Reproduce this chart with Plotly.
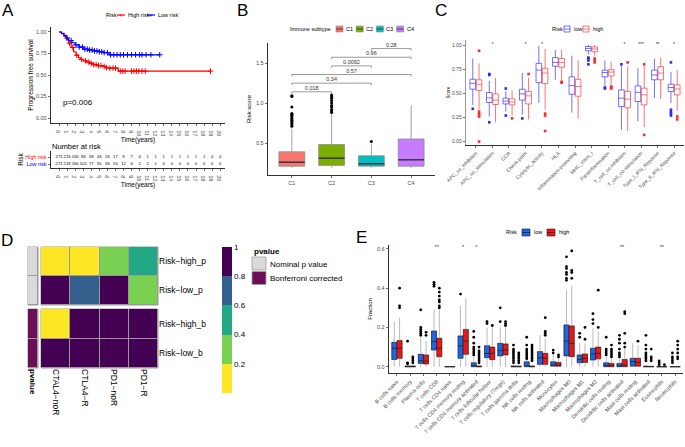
import numpy as np
import plotly.graph_objects as go

W, H = 685, 447
FONT = "Liberation Sans"
AX_TXT = "#4D4D4D"

# ---------------- Panel A data ----------------
km_t_high = [0, 0.3, 0.6, 0.9, 1.2, 1.5, 1.8, 2.1, 2.4, 2.7, 3.0, 3.4, 3.8, 4.3, 4.8, 5.3, 5.8, 6.3, 7.35, 18.8]
km_s_high = [1.0, 0.98, 0.95, 0.91, 0.87, 0.82, 0.77, 0.73, 0.70, 0.68, 0.665, 0.65, 0.635, 0.62, 0.61, 0.60, 0.585, 0.58, 0.545, 0.545]
km_t_low = [0, 0.3, 0.6, 0.9, 1.2, 1.6, 2.0, 2.5, 3.0, 3.6, 4.2, 5.0, 5.6, 6.2, 12.5]
km_s_low = [1.0, 0.985, 0.96, 0.93, 0.90, 0.875, 0.85, 0.825, 0.80, 0.79, 0.78, 0.77, 0.76, 0.735, 0.735]
cens_high = [1.3, 1.7, 2.2, 2.8, 3.3, 3.7, 4.0, 4.3, 4.6, 4.9, 5.2, 5.6, 5.9, 6.3, 6.7, 7.0, 7.6, 7.9, 8.2, 9.0, 9.3, 9.6, 9.9, 10.3, 10.7, 18.8]
cens_low = [1.0, 1.5, 2.1, 2.5, 2.9, 3.2, 3.5, 3.8, 4.1, 4.4, 4.7, 5.0, 5.3, 5.6, 6.0, 6.4, 6.8, 7.2, 7.6, 8.0, 8.5, 9.0, 9.5, 10.0, 10.3, 10.8, 11.4, 12.5]
risk_times = list(range(21))
risk_high = [271, 215, 130, 83, 59, 43, 26, 17, 9, 7, 4, 1, 1, 1, 1, 1, 1, 1, 1, 0, 0]
risk_low = [271, 218, 160, 101, 77, 55, 36, 20, 12, 6, 2, 2, 1, 0, 0, 0, 0, 0, 0, 0, 0]
p_text = "p=0.006"

# ---------------- Panel B data ----------------
b_cats = ["C1", "C2", "C3", "C4"]
b_colors = ["#F8766D", "#7CAE00", "#00BFC4", "#C77CFF"]
b_q1 = [0.21, 0.22, 0.21, 0.21]
b_med = [0.26, 0.31, 0.24, 0.29]
b_q3 = [0.39, 0.48, 0.34, 0.55]
b_lo = [0.19, 0.19, 0.19, 0.19]
b_hi = [0.68, 0.87, 0.49, 0.97]
b_out = [[1.09, 1.08, 0.95, 0.87, 0.86, 0.84, 0.83, 0.81, 0.80, 0.78, 0.77, 0.75, 0.73, 0.71],
         [1.10, 1.08, 1.06, 1.03, 1.00, 0.97, 0.95, 0.92, 0.90, 0.88],
         [0.52], []]
b_comparisons = [("C1", "C2", "0.018"), ("C1", "C3", "0.34"), ("C1", "C4", "0.57"),
                 ("C2", "C3", "0.0092"), ("C2", "C4", "0.96"), ("C3", "C4", "0.28")]

# ---------------- Panel C data ----------------
c_cats = ["APC_co_inhibition", "APC_co_stimulation", "CCR", "Check-point", "Cytolytic_activity", "HLA",
          "Inflammation-promoting", "MHC_class_I", "Parainflammation", "T_cell_co-inhibition",
          "T_cell_co-stimulation", "Type_I_IFN_Reponse", "Type_II_IFN_Reponse"]
c_low_q1 = [0.543, 0.405, 0.39, 0.43, 0.61, 0.78, 0.49, 0.94, 0.67, 0.364, 0.415, 0.64, 0.518]
c_low_med = [0.604, 0.453, 0.42, 0.494, 0.74, 0.82, 0.58, 0.965, 0.715, 0.45, 0.51, 0.69, 0.56]
c_low_q3 = [0.646, 0.508, 0.45, 0.542, 0.81, 0.87, 0.67, 0.985, 0.74, 0.535, 0.577, 0.74, 0.594]
c_low_lo = [0.38, 0.26, 0.31, 0.28, 0.40, 0.64, 0.30, 0.90, 0.58, 0.12, 0.21, 0.45, 0.40]
c_low_hi = [0.86, 0.63, 0.52, 0.71, 0.99, 0.95, 0.89, 1.0, 0.84, 0.78, 0.76, 0.86, 0.72]
c_low_out = [[0.34], [0.70, 0.69, 0.20], [0.55, 0.27], [0.24], [], [], [], [0.87, 0.86, 0.84, 0.80],
             [0.56, 0.55], [0.80], [], [], [0.82, 0.33, 0.31, 0.29, 0.27]]
c_high_q1 = [0.53, 0.384, 0.38, 0.39, 0.60, 0.77, 0.47, 0.93, 0.68, 0.35, 0.38, 0.64, 0.484]
c_high_med = [0.594, 0.43, 0.41, 0.474, 0.71, 0.82, 0.57, 0.96, 0.72, 0.44, 0.484, 0.71, 0.545]
c_high_q3 = [0.64, 0.494, 0.443, 0.52, 0.76, 0.86, 0.645, 0.98, 0.745, 0.52, 0.553, 0.776, 0.587]
c_high_lo = [0.33, 0.20, 0.27, 0.23, 0.33, 0.64, 0.24, 0.89, 0.59, 0.11, 0.15, 0.44, 0.32]
c_high_hi = [0.81, 0.66, 0.53, 0.66, 0.96, 0.95, 0.84, 1.0, 0.83, 0.78, 0.78, 0.87, 0.74]
c_high_out = [[0.94, 0.31, 0.29, 0.27, 0.26, 0.0], [], [0.24], [0.70], [0.29, 0.27, 0.11], [0.61, 0.62], [],
              [0.86, 0.84, 0.82], [0.57, 0.56, 0.55], [0.82], [0.80, 0.07], [], [0.26, 0.23]]
c_sig = ["", "*", "", "*", "*", "", "", "", "", "*", "***", "**", "*"]

# ---------------- Panel D data ----------------
d_cols = ["CTAL4−noR", "CTLA4−R", "PD1−noR", "PD1−R"]
d_rows_p = ["Risk−high_p", "Risk−low_p"]
d_rows_b = ["Risk−high_b", "Risk−low_b"]
pval_high_p = [0.08, 0.10, 0.33, 0.52]
pval_low_p = [0.97, 0.72, 0.95, 0.30]
pval_high_b = [0.12, 1.0, 1.0, 1.0]
pval_low_b = [1.0, 1.0, 1.0, 1.0]
d_ann_labels = ["Nominal p value", "Bonferroni corrected"]
d_ann_colors = ["#D9D9D9", "#6D0F56"]

# ---------------- Panel E data ----------------
e_cats = ["B cells naive", "B cells memory", "Plasma cells", "T cells CD8", "T cells CD4 naive",
          "T cells CD4 memory resting", "T cells CD4 memory activated", "T cells follicular helper",
          "T cells regulatory (Tregs)", "T cells gamma delta", "NK cells resting", "NK cells activated",
          "Monocytes", "Macrophages M0", "Macrophages M1", "Macrophages M2", "Dendritic cells resting",
          "Dendritic cells activated", "Mast cells resting", "Mast cells activated", "Eosinophils", "Neutrophils"]
e_low_q1 = [0.037, 0, 0.017, 0.085, 0, 0.043, 0, 0.046, 0.055, 0, 0, 0.012, 0.003, 0.055, 0.02, 0.034, 0, 0, 0.003, 0, 0, 0]
e_low_med = [0.094, 0, 0.031, 0.128, 0, 0.106, 0, 0.068, 0.082, 0, 0.004, 0.046, 0.009, 0.131, 0.037, 0.065, 0.006, 0.004, 0.026, 0, 0, 0]
e_low_q3 = [0.124, 0.004, 0.063, 0.182, 0, 0.157, 0.02, 0.107, 0.119, 0.004, 0.025, 0.077, 0.025, 0.213, 0.06, 0.094, 0.02, 0.017, 0.043, 0.003, 0, 0]
e_low_lo = [0] * 22
e_low_hi = [0.23, 0.01, 0.15, 0.29, 0, 0.31, 0.05, 0.2, 0.2, 0.01, 0.06, 0.16, 0.06, 0.39, 0.12, 0.2, 0.05, 0.04, 0.12, 0.008, 0, 0]
e_low_out = [[], [0.13, 0.02, 0.015], [0.29, 0.2, 0.19, 0.18, 0.17, 0.16], [0.43, 0.42, 0.41], [], [0.37],
             [0.18, 0.15, 0.12, 0.10, 0.09, 0.08, 0.07, 0.06], [0.23, 0.22], [0.30, 0.23],
             [0.11, 0.09, 0.08, 0.07, 0.06, 0.05, 0.04, 0.03, 0.02], [0.15, 0.11, 0.09, 0.08, 0.07, 0.06, 0.05, 0.04],
             [], [0.085, 0.07], [0.56, 0.51, 0.50, 0.48, 0.47, 0.45, 0.44], [0.17, 0.15], [0.27, 0.24, 0.22],
             [0.15, 0.09, 0.08, 0.07, 0.06], [0.16, 0.14, 0.12, 0.09, 0.07, 0.06, 0.05], [],
             [0.16, 0.11, 0.09, 0.07, 0.06, 0.05, 0.04, 0.03], [0.03, 0.02, 0.01], [0.07, 0.05, 0.04, 0.03, 0.02]]
e_high_q1 = [0.043, 0, 0.014, 0.051, 0, 0.063, 0, 0.036, 0.06, 0, 0, 0.012, 0.003, 0.051, 0.022, 0.04, 0, 0, 0.003, 0, 0, 0]
e_high_med = [0.094, 0, 0.029, 0.094, 0, 0.131, 0, 0.068, 0.085, 0, 0, 0.043, 0.009, 0.119, 0.043, 0.068, 0.006, 0.008, 0.022, 0, 0, 0]
e_high_q3 = [0.133, 0.004, 0.06, 0.145, 0, 0.19, 0.004, 0.1, 0.116, 0.003, 0.004, 0.068, 0.022, 0.208, 0.065, 0.1, 0.017, 0.037, 0.043, 0.002, 0, 0]
e_high_lo = [0] * 22
e_high_hi = [0.25, 0.01, 0.13, 0.29, 0, 0.35, 0.01, 0.2, 0.2, 0.008, 0.01, 0.14, 0.05, 0.41, 0.12, 0.18, 0.04, 0.09, 0.11, 0.005, 0, 0]
e_high_out = [[0.40, 0.31, 0.30], [0.05, 0.04, 0.03, 0.02], [0.175, 0.16], [0.40, 0.38, 0.36, 0.34, 0.33, 0.31, 0.30],
              [], [], [0.10, 0.08, 0.07, 0.06, 0.05, 0.04, 0.03, 0.02], [0.21], [0.23, 0.22, 0.21],
              [0.07, 0.06, 0.05, 0.04, 0.03, 0.02], [0.11, 0.10, 0.09, 0.08, 0.07, 0.06, 0.05, 0.04, 0.03],
              [0.25, 0.18, 0.17, 0.16], [0.06, 0.05], [0.59, 0.49, 0.48, 0.45], [0.2, 0.14], [0.39, 0.20],
              [0.11, 0.09, 0.08, 0.07, 0.06, 0.05], [0.28, 0.27, 0.17, 0.12, 0.10], [0.13],
              [0.09, 0.05, 0.04, 0.03], [0.01], [0.13, 0.11, 0.09, 0.07, 0.05, 0.04]]
e_sig = ["", "", "", "**", "", "*", "*", "", "", "", "", "", "", "", "", "", "", "**", "", "", "**", ""]


# ================= helpers =================
def X(p):
    return p / W


def Y(p):
    return 1 - p / H


annotations = []
shapes = []


def ann(text, x, y, size, color="black", xanchor="left", yanchor="middle", angle=0):
    annotations.append(dict(text=text, x=X(x), y=Y(y), xref="paper", yref="paper", showarrow=False,
                            font=dict(family=FONT, size=size, color=color), xanchor=xanchor,
                            yanchor=yanchor, textangle=angle, borderpad=0))


def rect(x0, y0, x1, y1, fill, line="#808080", lw=0.6):
    shapes.append(dict(type="rect", xref="paper", yref="paper", x0=X(x0), x1=X(x1), y0=Y(y1), y1=Y(y0),
                       fillcolor=fill, line=dict(color=line, width=lw)))


def hline(x0, x1, y, color, lw=0.8):
    shapes.append(dict(type="line", xref="paper", yref="paper", x0=X(x0), x1=X(x1), y0=Y(y), y1=Y(y),
                       line=dict(color=color, width=lw)))


def segs(xs_a, xs_b, ys_a, ys_b):
    xx, yy = [], []
    for a, b, c, d in zip(xs_a, xs_b, ys_a, ys_b):
        xx += [a, b, None]
        yy += [c, d, None]
    return xx, yy


def step_value(ts, ss, t):
    idx = np.searchsorted(np.asarray(ts), np.asarray(t), side="right") - 1
    return np.asarray(ss)[idx]


fig = go.Figure()

# ================= Panel A =================
for t, s, ct, col in [(km_t_high, km_s_high, cens_high, "#FF0000"), (km_t_low, km_s_low, cens_low, "#0000FF")]:
    fig.add_trace(go.Scatter(x=t, y=s, mode="lines", line=dict(color=col, width=1.2, shape="hv"),
                             xaxis="x", yaxis="y", showlegend=False, hoverinfo="skip"))
    fig.add_trace(go.Scatter(x=ct, y=step_value(t, s, ct), mode="markers",
                             marker=dict(symbol="cross-thin", size=4, line=dict(color=col, width=1)),
                             xaxis="x", yaxis="y", showlegend=False, hoverinfo="skip"))
fig.add_trace(go.Scatter(x=risk_times + risk_times, y=[1] * len(risk_times) + [0] * len(risk_times),
                         text=[str(v) for v in risk_high + risk_low], mode="text",
                         textfont=dict(family=FONT, size=4.2, color="black"),
                         xaxis="x2", yaxis="y2", showlegend=False, hoverinfo="skip"))

# ================= Panel B =================
bw = 0.65
for i, cat in enumerate(b_cats):
    fig.add_trace(go.Box(x=[i], q1=[b_q1[i]], median=[b_med[i]], q3=[b_q3[i]],
                         lowerfence=[b_q1[i]], upperfence=[b_q3[i]], width=bw, whiskerwidth=0,
                         fillcolor=b_colors[i], line=dict(color="#8C8C8C", width=0.8), boxpoints=False,
                         name=cat, xaxis="x3", yaxis="y3", showlegend=False, hoverinfo="skip"))
idx = list(range(len(b_cats)))
wx, wy = segs(idx + idx, idx + idx, b_q1 + b_q3, b_lo + b_hi)
fig.add_trace(go.Scatter(x=wx, y=wy, mode="lines", line=dict(color="#8C8C8C", width=0.8),
                         xaxis="x3", yaxis="y3", showlegend=False, hoverinfo="skip"))
mx, my = segs([i - bw / 2 for i in idx], [i + bw / 2 for i in idx], b_med, b_med)
fig.add_trace(go.Scatter(x=mx, y=my, mode="lines", line=dict(color="#333333", width=1.4),
                         xaxis="x3", yaxis="y3", showlegend=False, hoverinfo="skip"))
ox = [i for i in idx for _ in b_out[i]]
oy = [v for i in idx for v in b_out[i]]
fig.add_trace(go.Scatter(x=ox, y=oy, mode="markers", marker=dict(color="black", size=3),
                         xaxis="x3", yaxis="y3", showlegend=False, hoverinfo="skip"))
br_base, br_step, br_tip = 1.14, 0.108, 0.025
bx, byy, tx, ty, tt = [], [], [], [], []
for k, (a, b, lab) in enumerate(b_comparisons):
    ia, ib = b_cats.index(a), b_cats.index(b)
    yk = br_base + br_step * k
    bx += [ia, ia, ib, ib, None]
    byy += [yk - br_tip, yk, yk, yk - br_tip, None]
    tx.append((ia + ib) / 2)
    ty.append(yk + 0.04)
    tt.append(lab)
fig.add_trace(go.Scatter(x=bx, y=byy, mode="lines", line=dict(color="#707070", width=0.7),
                         xaxis="x3", yaxis="y3", showlegend=False, hoverinfo="skip"))
fig.add_trace(go.Scatter(x=tx, y=ty, text=tt, mode="text", textfont=dict(family=FONT, size=5.5, color="#333"),
                         xaxis="x3", yaxis="y3", showlegend=False, hoverinfo="skip"))

# ================= Panel C =================
c_off, c_w = 0.19, 0.34
c_groups = [(c_low_q1, c_low_med, c_low_q3, c_low_lo, c_low_hi, c_low_out, "rgba(40,40,255,0.65)", "#2828FF", -c_off),
            (c_high_q1, c_high_med, c_high_q3, c_high_lo, c_high_hi, c_high_out, "rgba(255,40,40,0.65)", "#FF2828", c_off)]
for q1, med, q3, lo, hi, out, lc, pc, off in c_groups:
    xs = [i + off for i in range(len(c_cats))]
    fig.add_trace(go.Box(x=xs, q1=q1, median=med, q3=q3, lowerfence=lo, upperfence=hi, width=c_w,
                         whiskerwidth=0, fillcolor="rgba(255,255,255,0)", line=dict(color=lc, width=1),
                         boxpoints=False, xaxis="x4", yaxis="y4", showlegend=False, hoverinfo="skip"))
    fig.add_trace(go.Scatter(x=[xs[i] for i in range(len(out)) for _ in out[i]],
                             y=[v for i in range(len(out)) for v in out[i]], mode="markers",
                             marker=dict(color=pc, size=2.6, symbol="square"),
                             xaxis="x4", yaxis="y4", showlegend=False, hoverinfo="skip"))
fig.add_trace(go.Scatter(x=list(range(len(c_cats))), y=[1.0] * len(c_cats), text=c_sig, mode="text",
                         textfont=dict(family=FONT, size=5, color="#333"),
                         xaxis="x4", yaxis="y4", showlegend=False, hoverinfo="skip"))

# ================= Panel D =================
viridis5 = ["#FDE725", "#7AD151", "#22A884", "#355F8D", "#440154"]
d_scale = []
for k, c in enumerate(viridis5):
    d_scale += [[k / 5, c], [(k + 1) / 5, c]]
fig.add_trace(go.Heatmap(z=[pval_low_p, pval_high_p], x=list(range(4)), y=[0, 1], zmin=0, zmax=1,
                         colorscale=d_scale, xgap=1, ygap=1, xaxis="x6", yaxis="y6", hoverinfo="skip",
                         colorbar=dict(x=X(222), xanchor="left", y=Y(247), yanchor="top", len=146,
                                       lenmode="pixels", thickness=10, thicknessmode="pixels",
                                       outlinewidth=0, tickvals=[0.2, 0.4, 0.6, 0.8, 1.0],
                                       ticktext=["0.2", "0.4", "0.6", "0.8", "1"], ticks="",
                                       tickfont=dict(family=FONT, size=8, color="black"), xpad=0, ypad=0)))
fig.add_trace(go.Heatmap(z=[pval_low_b, pval_high_b], x=list(range(4)), y=[0, 1], zmin=0, zmax=1,
                         colorscale=d_scale, xgap=1, ygap=1, showscale=False, xaxis="x8", yaxis="y8",
                         hoverinfo="skip"))
fig.add_trace(go.Heatmap(z=[[0], [0]], x=[0], y=[0, 1], zmin=0, zmax=1,
                         colorscale=[[0, d_ann_colors[0]], [1, d_ann_colors[0]]], xgap=1, ygap=1,
                         showscale=False, xaxis="x5", yaxis="y5", hoverinfo="skip"))
fig.add_trace(go.Heatmap(z=[[0], [0]], x=[0], y=[0, 1], zmin=0, zmax=1,
                         colorscale=[[0, d_ann_colors[1]], [1, d_ann_colors[1]]], xgap=1, ygap=1,
                         showscale=False, xaxis="x7", yaxis="y7", hoverinfo="skip"))
for xa, ya in [("x5", "y5"), ("x6", "y6"), ("x7", "y7"), ("x8", "y8")]:
    shapes.append(dict(type="rect", xref=xa + " domain", yref=ya + " domain", x0=0, x1=1, y0=0, y1=1,
                       fillcolor="#9A9A9A", line=dict(color="#9A9A9A", width=1), layer="below"))

# ================= Panel E =================
e_off, e_w = 0.2, 0.38
e_groups = [(e_low_q1, e_low_med, e_low_q3, e_low_lo, e_low_hi, e_low_out, "#1F66E5", -e_off),
            (e_high_q1, e_high_med, e_high_q3, e_high_lo, e_high_hi, e_high_out, "#F01616", e_off)]
for q1, med, q3, lo, hi, out, fc, off in e_groups:
    xs = [i + off for i in range(len(e_cats))]
    wx, wy = segs(xs + xs, xs + xs, q1 + q3, lo + hi)
    fig.add_trace(go.Scatter(x=wx, y=wy, mode="lines", line=dict(color="#A8A8A8", width=0.8),
                             xaxis="x9", yaxis="y9", showlegend=False, hoverinfo="skip"))
    fig.add_trace(go.Box(x=xs, q1=q1, median=med, q3=q3, lowerfence=q1, upperfence=q3, width=e_w,
                         whiskerwidth=0, fillcolor=fc, line=dict(color="#1A1A1A", width=0.7),
                         boxpoints=False, xaxis="x9", yaxis="y9", showlegend=False, hoverinfo="skip"))
    fig.add_trace(go.Scatter(x=[xs[i] for i in range(len(out)) for _ in out[i]],
                             y=[v for i in range(len(out)) for v in out[i]], mode="markers",
                             marker=dict(color="black", size=2.8),
                             xaxis="x9", yaxis="y9", showlegend=False, hoverinfo="skip"))
fig.add_trace(go.Scatter(x=list(range(len(e_cats))), y=[0.608] * len(e_cats), text=e_sig, mode="text",
                         textfont=dict(family=FONT, size=5.5, color="#333"),
                         xaxis="x9", yaxis="y9", showlegend=False, hoverinfo="skip"))

# ================= Axes =================
def ax(domain, anchor, **kw):
    d = dict(domain=domain, anchor=anchor, showline=True, linecolor="black", linewidth=0.8,
             ticks="outside", ticklen=2.5, tickwidth=0.7, tickcolor="#333", showgrid=False,
             zeroline=False, automargin=False, fixedrange=True,
             tickfont=dict(family=FONT, size=5.5, color=AX_TXT))
    d.update(kw)
    return d


def ttl(text, size, standoff):
    return dict(text=text, font=dict(family=FONT, size=size, color="black"), standoff=standoff)


def dax(domain, anchor, **kw):
    d = dict(domain=domain, anchor=anchor, showline=False, ticks="", showgrid=False, zeroline=False,
             automargin=False, fixedrange=True, showticklabels=False,
             tickfont=dict(family=FONT, size=8.5, color="black"))
    d.update(kw)
    return d


layout_axes = dict(
    xaxis=ax([X(51), X(225)], "y", range=[-1.0, 20.6], tickvals=risk_times, title=ttl("Time(years)", 6.5, 1)),
    yaxis=ax([Y(123), Y(27)], "x", range=[-0.058, 1.058], tickvals=[0, 0.25, 0.5, 0.75, 1.0],
             ticktext=["0.00", "0.25", "0.50", "0.75", "1.00"], title=ttl("Progression free survival", 6.5, 1)),
    xaxis2=ax([X(51), X(225)], "y2", range=[-1.0, 20.6], tickvals=risk_times, title=ttl("Time(years)", 6.5, 1)),
    yaxis2=ax([Y(168), Y(151)], "x2", range=[-0.571, 1.857], tickvals=[1, 0],
              ticktext=["<span style='color:#FF0000'>High risk</span>", "<span style='color:#0000FF'>Low risk</span>"],
              title=ttl("Risk", 6.5, 0)),
    xaxis3=ax([X(268), X(435)], "y3", range=[-0.6, 3.6], tickvals=list(range(4)), ticktext=b_cats),
    yaxis3=ax([Y(175), Y(43)], "x3", range=[0.1, 1.75], tickvals=[0.5, 1.0, 1.5], ticktext=["0.5", "1.0", "1.5"],
              title=ttl("Risk score", 6, 3)),
    xaxis4=ax([X(466), X(684)], "y4", range=[-0.6, 12.6], tickvals=list(range(len(c_cats))), ticktext=c_cats,
              tickangle=-45, tickfont=dict(family=FONT, size=5, color=AX_TXT)),
    yaxis4=ax([Y(145), Y(40)], "x4", range=[-0.035, 1.052], tickvals=[0, 0.25, 0.5, 0.75, 1.0],
              ticktext=["0.00", "0.25", "0.50", "0.75", "1.00"], tickfont=dict(family=FONT, size=5, color=AX_TXT),
              linecolor="#7F7F7F", title=ttl("Score", 4.5, 1)),
    xaxis5=dax([X(28), X(38)], "y5", range=[-0.5, 0.5]),
    yaxis5=dax([Y(305), Y(247)], "x5", range=[-0.5, 1.5]),
    xaxis6=dax([X(41), X(158)], "y6", range=[-0.5, 3.5]),
    yaxis6=dax([Y(305), Y(247)], "x6", range=[-0.5, 1.5], side="right", showticklabels=True,
               tickvals=[1, 0], ticktext=d_rows_p),
    xaxis7=dax([X(28), X(38)], "y7", range=[-0.5, 0.5], showticklabels=True, tickvals=[0],
               ticktext=["<b>pvalue</b>"], tickangle=90, tickfont=dict(family=FONT, size=8, color="black")),
    yaxis7=dax([Y(368), Y(309)], "x7", range=[-0.5, 1.5]),
    xaxis8=dax([X(41), X(158)], "y8", range=[-0.5, 3.5], showticklabels=True, tickvals=list(range(4)),
               ticktext=d_cols, tickangle=90),
    yaxis8=dax([Y(368), Y(309)], "x8", range=[-0.5, 1.5], side="right", showticklabels=True,
               tickvals=[1, 0], ticktext=d_rows_b),
    xaxis9=ax([X(389), X(683)], "y9", range=[-0.6, 21.6], tickvals=list(range(len(e_cats))), ticktext=e_cats,
              tickangle=-45),
    yaxis9=ax([Y(373), Y(245)], "x9", range=[-0.032, 0.62], tickvals=[0, 0.2, 0.4, 0.6],
              ticktext=["0.0", "0.2", "0.4", "0.6"], title=ttl("Fraction", 6, 3)),
)

# ================= Texts & legends =================
for letter, lx, ly in [("A", 1, 10), ("B", 236, 10), ("C", 434, 10), ("D", 0, 240), ("E", 355, 237)]:
    ann(letter, lx, ly, 17)
ann(p_text, 62, 102, 8)
ann("Number at risk", 51, 146, 7.5)

# A legend
ann("Risk", 105, 15, 5.5)
for lx, col, lab in [(117, "#FF0000", "High risk"), (147, "#0000FF", "Low risk")]:
    hline(lx, lx + 8, 15, col, 1.2)
    ann("+", lx + 4, 15, 6, color=col, xanchor="center")
    ann(lab, lx + 10, 15, 5.5)

# B legend
ann("Immune subtype", 289, 29, 5.5)
for i, (cat, col) in enumerate(zip(b_cats, b_colors)):
    kx = 336 + 20.2 * i
    rect(kx, 26, kx + 7, 32, col, "#8C8C8C", 0.6)
    hline(kx, kx + 7, 29, "#333333", 0.8)
    ann(cat, kx + 9, 29, 5.5)

# C legend
ann("Risk", 551, 29, 5.5)
for kx, col, lab in [(564, "rgba(40,40,255,0.65)", "low"), (583, "rgba(255,40,40,0.65)", "high")]:
    rect(kx, 26, kx + 6, 32, "white", col, 1)
    hline(kx, kx + 6, 29, col, 1)
    ann(lab, kx + 9, 29, 5.5)

# E legend
ann("Risk", 505, 232, 5.5)
for kx, col, lab in [(522, "#1F66E5", "low"), (547, "#F01616", "high")]:
    rect(kx, 229, kx + 8, 236, col, "#1A1A1A", 0.6)
    hline(kx, kx + 8, 232.5, "#1A1A1A", 0.7)
    ann(lab, kx + 11, 232, 5.5)

# D legend
ann("<b>pvalue</b>", 253, 251, 8)
for k, (lab, col) in enumerate(zip(d_ann_labels, d_ann_colors)):
    y0 = 257 + 14.5 * k
    rect(252, y0, 266, y0 + 13, col, "#A0A0A0", 0.8)
    ann(lab, 269, y0 + 7, 8)

fig.update_layout(
    width=W, height=H, margin=dict(l=0, r=0, t=0, b=0),
    paper_bgcolor="white", plot_bgcolor="white", showlegend=False,
    font=dict(family=FONT, size=6, color="black"),
    annotations=annotations, shapes=shapes, **layout_axes,
)

fig.write_html("out.html", config={"displayModeBar": False, "staticPlot": True},
               post_script="document.body.style.margin='0';document.body.style.overflow='hidden';")
